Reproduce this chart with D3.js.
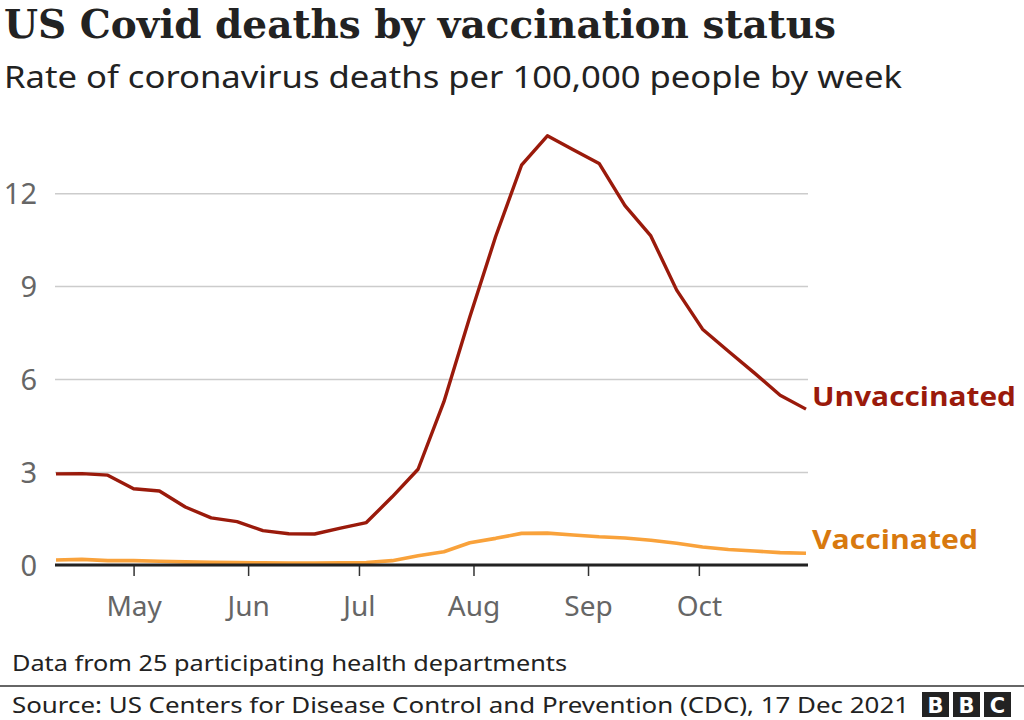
<!DOCTYPE html>
<html>
<head>
<meta charset="utf-8">
<script src="https://cdn.jsdelivr.net/npm/d3@7"></script>
<style>
  html, body { margin: 0; padding: 0; background: #fff; }
  svg { display: block; }
</style>
</head>
<body>
<div id="chart"></div>
<script>
// weekly dates (week ending)
const weeks = [
  "2021-04-10", "2021-04-17", "2021-04-24", "2021-05-01", "2021-05-08",
  "2021-05-15", "2021-05-22", "2021-05-29", "2021-06-05", "2021-06-12",
  "2021-06-19", "2021-06-26", "2021-07-03", "2021-07-10", "2021-07-17",
  "2021-07-24", "2021-07-31", "2021-08-07", "2021-08-14", "2021-08-21",
  "2021-08-28", "2021-09-04", "2021-09-11", "2021-09-18", "2021-09-25",
  "2021-10-02", "2021-10-09", "2021-10-16", "2021-10-23", "2021-10-30"
];
const unvaccinated = [
  2.94, 2.95, 2.9, 2.46, 2.39, 1.87, 1.52, 1.4, 1.11, 1.01,
  1.0, 1.19, 1.37, 2.2, 3.09, 5.27, 8.0, 10.6, 12.9, 13.85,
  13.4, 12.96, 11.6, 10.62, 8.87, 7.61, 6.9, 6.2, 5.48, 5.03
];
const vaccinated = [
  0.16, 0.18, 0.14, 0.14, 0.12, 0.1, 0.09, 0.08, 0.07, 0.06,
  0.06, 0.07, 0.08, 0.14, 0.3, 0.43, 0.72, 0.86, 1.02, 1.03,
  0.97, 0.91, 0.87, 0.8, 0.7, 0.58, 0.5, 0.45, 0.4, 0.38
];
const yTicks = [0, 3, 6, 9, 12];
const xTicks = ["2021-05-01", "2021-06-01", "2021-07-01", "2021-08-01", "2021-09-01", "2021-10-01"];

const W = 1024, H = 720;
const m = { left: 55, right: 808, top: 120, bottom: 565 };

const parse = d3.timeParse("%Y-%m-%d");
const dates = weeks.map(parse);

const svg = d3.select("#chart").append("svg")
  .attr("width", W).attr("height", H);

const x = d3.scaleTime()
  .domain(d3.extent(dates))
  .range([m.left + 1, m.right - 2]);

const y = d3.scaleLinear()
  .domain([0, 14.36])
  .range([m.bottom, m.top]);

// titles
svg.append("text")
  .attr("x", 4).attr("y", 38)
  .attr("font-family", "DejaVu Serif")
  .attr("font-weight", "bold")
  .attr("font-size", 39)
  .attr("fill", "#222")
  .attr("textLength", 832).attr("lengthAdjust", "spacingAndGlyphs")
  .text("US Covid deaths by vaccination status");

svg.append("text")
  .attr("x", 4).attr("y", 88)
  .attr("font-family", "Noto Sans")
  .attr("font-size", 31)
  .attr("fill", "#222")
  .attr("textLength", 898).attr("lengthAdjust", "spacingAndGlyphs")
  .text("Rate of coronavirus deaths per 100,000 people by week");

// grid lines + y labels
const yAxis = svg.append("g")
  .attr("transform", `translate(${m.left},0)`)
  .call(d3.axisRight(y).tickValues(yTicks).tickSize(m.right - m.left).tickFormat(d3.format("d")));
yAxis.select(".domain").remove();
yAxis.selectAll(".tick line").attr("stroke", "#cccccc").attr("stroke-width", 1.5);
yAxis.selectAll(".tick text")
  .attr("x", -18).attr("dy", "0.36em")
  .attr("text-anchor", "end")
  .attr("font-family", "Noto Sans")
  .attr("font-size", 29)
  .attr("fill", "#666");

// x axis
const xAxis = svg.append("g")
  .attr("transform", `translate(0,${m.bottom})`)
  .call(d3.axisBottom(x).tickValues(xTicks.map(parse)).tickSize(11).tickPadding(20).tickFormat(d3.timeFormat("%b")));
xAxis.select(".domain").remove();
xAxis.selectAll(".tick line").attr("stroke", "#333").attr("stroke-width", 1.5);
xAxis.selectAll(".tick text")
  .attr("font-family", "Noto Sans")
  .attr("font-size", 28)
  .attr("fill", "#666");

// lines
const line = d3.line()
  .x((d, i) => x(dates[i]))
  .y(d => y(d));

svg.append("path")
  .datum(vaccinated)
  .attr("fill", "none")
  .attr("stroke", "#f9a23b")
  .attr("stroke-width", 3.6)
  .attr("stroke-linejoin", "round")
  .attr("d", line);

svg.append("path")
  .datum(unvaccinated)
  .attr("fill", "none")
  .attr("stroke", "#9a1a0b")
  .attr("stroke-width", 3.4)
  .attr("stroke-linejoin", "round")
  .attr("d", line);

// zero baseline
svg.append("line")
  .attr("x1", m.left).attr("x2", m.right)
  .attr("y1", y(0)).attr("y2", y(0))
  .attr("stroke", "#222").attr("stroke-width", 3);

// series labels
svg.append("text")
  .attr("x", 812).attr("y", y(unvaccinated[unvaccinated.length - 1]) - 3)
  .attr("font-family", "Open Sans").attr("font-weight", "bold")
  .attr("font-size", 27).attr("fill", "#9a1a0b")
  .attr("textLength", 204).attr("lengthAdjust", "spacingAndGlyphs")
  .text("Unvaccinated");

svg.append("text")
  .attr("x", 812).attr("y", y(vaccinated[vaccinated.length - 1]) - 4)
  .attr("font-family", "Open Sans").attr("font-weight", "bold")
  .attr("font-size", 27).attr("fill", "#d8790f")
  .attr("textLength", 166).attr("lengthAdjust", "spacingAndGlyphs")
  .text("Vaccinated");

// footer
svg.append("text")
  .attr("x", 12).attr("y", 671)
  .attr("font-family", "Noto Sans")
  .attr("font-size", 21).attr("fill", "#222")
  .attr("textLength", 555).attr("lengthAdjust", "spacingAndGlyphs")
  .text("Data from 25 participating health departments");

svg.append("line")
  .attr("x1", 0).attr("x2", W).attr("y1", 686).attr("y2", 686)
  .attr("stroke", "#666").attr("stroke-width", 2);

svg.append("text")
  .attr("x", 12).attr("y", 713)
  .attr("font-family", "Noto Sans")
  .attr("font-size", 22).attr("fill", "#222")
  .attr("textLength", 897).attr("lengthAdjust", "spacingAndGlyphs")
  .text("Source: US Centers for Disease Control and Prevention (CDC), 17 Dec 2021");

// BBC blocks
const logo = svg.append("g").attr("transform", "translate(922,692)");
["B", "B", "C"].forEach((c, i) => {
  logo.append("rect")
    .attr("x", i * 31).attr("y", 0)
    .attr("width", 27).attr("height", 25)
    .attr("fill", "#222");
  logo.append("text")
    .attr("x", i * 31 + 13.5).attr("y", 21)
    .attr("text-anchor", "middle")
    .attr("font-family", "DejaVu Sans").attr("font-weight", "bold")
    .attr("font-size", 21).attr("fill", "#fff")
    .text(c);
});
</script>
</body>
</html>
